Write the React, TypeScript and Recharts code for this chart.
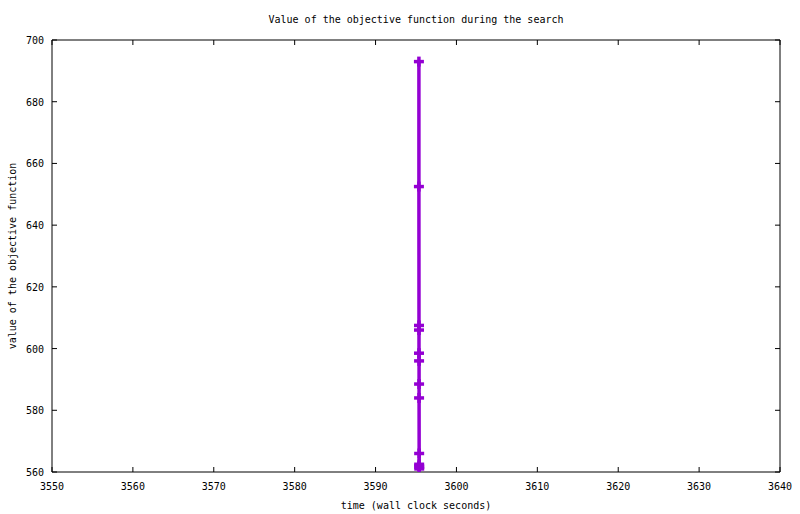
import React from 'react';
import { LineChart, Line, XAxis, YAxis } from 'recharts';

// wall-clock time of each evaluation and the objective value found
const times = [3595.36, 3595.36, 3595.37, 3595.37, 3595.37, 3595.38, 3595.38, 3595.38, 3595.39, 3595.39, 3595.39, 3595.4, 3595.4];
const values = [693, 652.5, 607.5, 606, 598.5, 596, 588.5, 584, 566, 562.5, 562, 561.5, 561];

const xTicks = [3550, 3560, 3570, 3580, 3590, 3600, 3610, 3620, 3630, 3640];
const yTicks = [560, 580, 600, 620, 640, 660, 680, 700];

const data = times.map((t, i) => ({ time: t, value: values[i] }));

const COLOR = '#9400d3';
const FONT = '"DejaVu Sans Mono", monospace';
const TICK = 5;

const BottomTick = (props: any) => {
  const { x, y, payload } = props;
  return (
    <g>
      <line x1={x} y1={y} x2={x} y2={y - TICK} stroke="#000" strokeWidth={1} />
      <text x={x} y={y + 18} textAnchor="middle" fontSize={10} fontFamily={FONT} fill="#000">
        {payload.value}
      </text>
    </g>
  );
};

const TopTick = (props: any) => {
  const { x, y } = props;
  return <line x1={x} y1={y} x2={x} y2={y + TICK} stroke="#000" strokeWidth={1} />;
};

const LeftTick = (props: any) => {
  const { x, y, payload } = props;
  return (
    <g>
      <line x1={x} y1={y} x2={x + TICK} y2={y} stroke="#000" strokeWidth={1} />
      <text x={x - 8} y={y + 4} textAnchor="end" fontSize={10} fontFamily={FONT} fill="#000">
        {payload.value}
      </text>
    </g>
  );
};

const RightTick = (props: any) => {
  const { x, y } = props;
  return <line x1={x} y1={y} x2={x - TICK} y2={y} stroke="#000" strokeWidth={1} />;
};

const PlusDot = (props: any) => {
  const { cx, cy } = props;
  if (cx == null || cy == null) return null;
  return (
    <g>
      <line x1={cx - 5} y1={cy} x2={cx + 5} y2={cy} stroke={COLOR} strokeWidth={3.5} />
      <line x1={cx} y1={cy - 5} x2={cx} y2={cy + 5} stroke={COLOR} strokeWidth={3.5} />
    </g>
  );
};

export default function App() {
  return (
    <div style={{ position: 'absolute', left: 0, top: 0, background: '#fff' }}>
      <LineChart
        width={800}
        height={514}
        data={data}
        margin={{ top: 0, right: 0, bottom: 0, left: 0 }}
        style={{ fontFamily: FONT }}
      >
        <XAxis
          xAxisId="bottom"
          dataKey="time"
          type="number"
          domain={[3550, 3640]}
          ticks={xTicks}
          height={42}
          stroke="#000"
          tickSize={0}
          tickMargin={0}
          tickLine={false}
          tick={<BottomTick />}
          interval={0}
          allowDataOverflow
          label={{ value: 'time (wall clock seconds)', position: 'center', dy: 12, fontSize: 10, fontFamily: FONT, fill: '#000' }}
        />
        <XAxis
          xAxisId="top"
          orientation="top"
          dataKey="time"
          type="number"
          domain={[3550, 3640]}
          ticks={xTicks}
          height={40}
          stroke="#000"
          tickSize={0}
          tickMargin={0}
          tickLine={false}
          tick={<TopTick />}
          interval={0}
          allowDataOverflow
          label={{ value: 'Value of the objective function during the search', position: 'center', dy: -1, fontSize: 10, fontFamily: FONT, fill: '#000' }}
        />
        <YAxis
          yAxisId="left"
          type="number"
          domain={[560, 700]}
          ticks={yTicks}
          width={52}
          stroke="#000"
          tickSize={0}
          tickMargin={0}
          tickLine={false}
          tick={<LeftTick />}
          interval={0}
          allowDataOverflow
          label={{ value: 'value of the objective function', angle: -90, position: 'center', dx: -14, fontSize: 10, fontFamily: FONT, fill: '#000' }}
        />
        <YAxis
          yAxisId="right"
          orientation="right"
          type="number"
          domain={[560, 700]}
          ticks={yTicks}
          width={20}
          stroke="#000"
          tickSize={0}
          tickMargin={0}
          tickLine={false}
          tick={<RightTick />}
          interval={0}
          allowDataOverflow
        />
        <Line
          xAxisId="bottom"
          yAxisId="left"
          type="linear"
          dataKey="value"
          stroke={COLOR}
          strokeWidth={3.5}
          dot={<PlusDot />}
          activeDot={false}
          isAnimationActive={false}
        />
      </LineChart>
    </div>
  );
}
